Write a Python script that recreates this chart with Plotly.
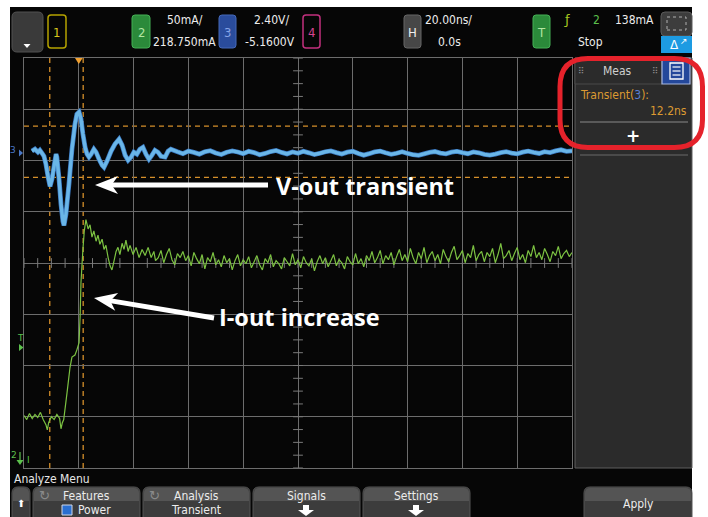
import numpy as np
import plotly.graph_objects as go

W, H = 708, 517

# ---------------- scope settings ----------------
TIME_RANGE_NS = [-20.0, 180.0]      # 20 ns/div, trigger 1 div from left
TIME_PER_DIV_NS = 20.0
CH2_MA_PER_DIV = 50.0
CH2_OFFSET_MA = 218.75
CH3_V_PER_DIV = 2.40
CH3_OFFSET_V = -5.16
TRIG_LEVEL_MA = 138.0
TRANSIENT_NS = 12.2
CURSOR_START_NS = -10.6
THRESH_HI_V = 1.25
THRESH_LO_V = -1.15

# ---------------- channel 3 (V-out, blue) ----------------
BLUE_T = [-17.1, -16.0, -14.9, -14.2, -13.4, -12.7, -12.0, -11.2, -10.5, -9.8, -9.1, -8.3, -8.0,
          -7.2, -6.5, -5.8, -5.4, -4.7, -3.6, -2.5, -1.4, -0.7, 0.1, 0.8, 1.5, 2.3, 3.0, 3.7, 4.5,
          5.5, 6.3, 7.4, 8.5, 9.2, 10.3, 11.8, 13.2, 14.7, 15.8, 16.9, 18.0, 19.1, 20.1, 21.2,
          22.3, 23.4, 24.5, 25.6, 26.7, 27.8, 28.9, 30.0, 31.5, 32.6, 33.6]
BLUE_V = [0.08, 0.17, 0.03, 0.12, -0.02, -0.16, -0.53, -1.14, -1.57, -1.24, -0.68, -0.06, -0.20,
          -1.24, -2.41, -3.21, -3.40, -2.88, -1.47, 0.17, 1.34, 1.81, 1.91, 1.58, 0.88, 0.26, -0.06,
          -0.20, -0.06, 0.17, 0.03, -0.30, -0.58, -0.68, -0.39, 0.08, 0.41, 0.64, 0.36, -0.11,
          -0.35, -0.20, 0.03, -0.06, 0.17, 0.26, -0.06, -0.30, -0.11, 0.12, 0.03, -0.16, -0.20,
          0.08, 0.17]
BLUE_TAIL_T0, BLUE_TAIL_DT = 36.0, 2.0
BLUE_TAIL_V = [0.05, -0.04, 0.08, 0.02, -0.06, 0.05, 0.10, -0.01, -0.08, 0.03,
               0.09, 0.04, -0.04, 0.07, 0.01, -0.09, -0.03, 0.06, 0.11, 0.02,
               -0.05, 0.04, -0.02, 0.07, 0.00, -0.08, -0.02, 0.05, 0.09, 0.01,
               -0.06, 0.03, 0.07, -0.03, -0.11, -0.04, 0.04, 0.08, 0.00, -0.07,
               -0.02, 0.05, -0.03, -0.09, -0.12, -0.05, 0.02, 0.06, -0.01, -0.05,
               0.03, 0.07, 0.01, -0.04, 0.04, 0.00, -0.07, -0.11, -0.06, 0.01,
               0.05, -0.01, -0.05, 0.03, 0.08, 0.02, -0.03, 0.05, 0.01, 0.09,
               0.14, 0.07, 0.09]

# ---------------- channel 2 (I-out, green) ----------------
GREEN_T = [-20, -19, -18, -17, -16, -15, -14, -13, -12, -11.5, -11, -10, -9, -8, -7, -6.5, -6,
           -5.5, -4.3, -3.2, -2.5, -1.4, -0.7, 0.1, 0.5, 0.8, 1.5, 2.0, 2.6, 3.4, 4.1, 4.8, 5.5,
           6.3, 7.0, 7.7, 8.5, 9.2, 9.9, 10.7, 11.4, 12.1, 12.8, 13.6, 14.3, 15.0, 15.8, 16.5,
           17.2, 18.0, 18.7, 19.8, 20.9, 22.0, 23.1, 24.2, 25.3, 26.4, 27.4, 28.0]
GREEN_MA = [70, 66, 72, 67, 71, 68, 73, 66, 61, 56, 63, 69, 66, 71, 67, 57, 63,
            66, 92, 117, 127, 129, 134, 141, 168, 200, 232, 250, 261, 252, 256, 244, 250,
            240, 246, 237, 242, 232, 236, 224, 216, 212, 220, 230, 234, 227, 238, 232,
            241, 230, 236, 227, 234, 224, 232, 226, 234, 224, 230, 221]
GREEN_TAIL_T0, GREEN_TAIL_DT = 29.0, 1.0
GREEN_TAIL_MA = [224, 231, 219, 227, 233, 222, 217, 228, 224, 230,
                 221, 226, 216, 229, 223, 218, 227, 213, 224, 220,
                 229, 217, 222, 215, 226, 219, 223, 212, 221, 227,
                 216, 222, 218, 225, 214, 220, 226, 217, 212, 223,
                 219, 227, 215, 221, 218, 213, 224, 220, 216, 228,
                 217, 222, 214, 225, 219, 216, 223, 211, 220, 226,
                 218, 224, 215, 221, 227, 216, 222, 219, 213, 225,
                 220, 217, 228, 218, 223, 215, 226, 221, 230, 219,
                 224, 231, 218, 226, 222, 229, 217, 225, 232, 221,
                 227, 220, 233, 224, 218, 229, 223, 234, 219, 226,
                 230, 221, 227, 218, 232, 225, 220, 229, 235, 222,
                 226, 231, 219, 228, 224, 236, 221, 227, 230, 220,
                 229, 225, 233, 219, 227, 238, 223, 226, 231, 221,
                 228, 234, 222, 227, 219, 231, 225, 236, 224, 229,
                 222, 233, 227, 220, 230, 226, 235, 223, 228, 231,
                 225, 229]

# ---------------- colours / fonts ----------------
ORANGE = "#d58f2a"
GRID = "#6c6c6c"
UI = "Liberation Sans Narrow, DejaVu Sans Condensed, Arial Narrow, sans-serif"
BIG = "Open Sans, Noto Sans, sans-serif"


def X(p):
    return p / W


def Y(p):
    return 1 - p / H


shapes = []
annots = []


def rect(x0, y0, x1, y1, fill, line=None, lw=1, layer="below", dash=None):
    shapes.append(dict(type="rect", xref="paper", yref="paper", x0=X(x0), x1=X(x1), y0=Y(y1), y1=Y(y0),
                       fillcolor=fill, layer=layer,
                       line=dict(color=line if line else "rgba(0,0,0,0)", width=lw if line else 0,
                                 dash=dash)))


def rrect(x0, y0, x1, y1, r, fill, line=None, lw=1, layer="below", top_only=False):
    rb = 0 if top_only else r
    p = (f"M {X(x0 + r)},{Y(y0)} L {X(x1 - r)},{Y(y0)} Q {X(x1)},{Y(y0)} {X(x1)},{Y(y0 + r)} "
         f"L {X(x1)},{Y(y1 - rb)} Q {X(x1)},{Y(y1)} {X(x1 - rb)},{Y(y1)} "
         f"L {X(x0 + rb)},{Y(y1)} Q {X(x0)},{Y(y1)} {X(x0)},{Y(y1 - rb)} "
         f"L {X(x0)},{Y(y0 + r)} Q {X(x0)},{Y(y0)} {X(x0 + r)},{Y(y0)} Z")
    shapes.append(dict(type="path", xref="paper", yref="paper", path=p, fillcolor=fill, layer=layer,
                       line=dict(color=line if line else "rgba(0,0,0,0)", width=lw if line else 0)))


def poly(pts, fill, layer="above"):
    p = "M " + " L ".join(f"{X(a)},{Y(b)}" for a, b in pts) + " Z"
    shapes.append(dict(type="path", xref="paper", yref="paper", path=p, fillcolor=fill, layer=layer,
                       line=dict(width=0)))


def seg(x0, y0, x1, y1, color, lw=1, layer="above", dash=None):
    shapes.append(dict(type="line", xref="paper", yref="paper", x0=X(x0), x1=X(x1), y0=Y(y0), y1=Y(y1),
                       layer=layer, line=dict(color=color, width=lw, dash=dash)))


def txt(x, y, s, color="#ececec", size=12, anchor="center", family=UI, weight="normal"):
    annots.append(dict(x=X(x), y=Y(y), xref="paper", yref="paper",
                       text=s, showarrow=False, xanchor=anchor, yanchor="middle",
                       font=dict(color=color, size=size, family=family, weight=weight)))


def arrow(tail, tip, lw=5, head_len=23, head_half=9):
    tx, ty = tail
    hx, hy = tip
    L = np.hypot(hx - tx, hy - ty)
    ux, uy = (hx - tx) / L, (hy - ty) / L
    nx, ny = -uy, ux
    bx, by = hx - ux * head_len, hy - uy * head_len
    nxp, nyp = hx - ux * head_len * 0.72, hy - uy * head_len * 0.72
    seg(tx, ty, nxp + ux * 2, nyp + uy * 2, "white", lw)
    poly([(hx, hy), (bx + nx * head_half, by + ny * head_half), (nxp, nyp),
          (bx - nx * head_half, by - ny * head_half)], "white")


# ---------------- screen background ----------------
rect(10, 7, 692, 517, "#060606")

# top bar
rrect(12, 12, 43, 52, 5, "#3a3a3a", "#505050")
poly([(23.5, 44), (30.5, 44), (27, 48)], "white")
rrect(48, 15, 66, 48, 3, "rgba(0,0,0,0)", "#b5a300", 1.5)
txt(57, 32, "1", "#d8c61c", 13)
rrect(132, 15, 150, 48, 3, "#2b8a3a", "#45b055")
txt(141, 32, "2", "#b3e6a3", 13)
txt(185, 20, "50mA/")
txt(184, 42, "218.750mA")
rrect(219, 15, 236, 48, 3, "#2a4c9c", "#4468b8")
txt(227.5, 32, "3", "#86a4e6", 13)
txt(271, 20, "2.40V/")
txt(270, 42, "-5.1600V")
rrect(303, 15, 320, 48, 3, "rgba(0,0,0,0)", "#c2307e", 1.5)
txt(311.5, 32, "4", "#d6448f", 13)
rrect(404, 15, 421, 48, 3, "#474747", "#666666")
txt(412.5, 32, "H", "#f0f0f0", 13)
txt(448, 20, "20.00ns/")
txt(449, 42, "0.0s")
rrect(533, 15, 550, 48, 3, "#2b8a3a", "#45b055")
txt(541.5, 32, "T", "#b3e6a3", 13)
txt(567, 20, "ƒ", "#a8c820", 13, family="DejaVu Sans")
txt(596, 20, "2", "#5cc04c")
txt(634, 20, "138mA")
txt(590, 42, "Stop")
rrect(661, 12, 692, 36, 4, "#3d3d3d", "#5a5a5a")
rect(667, 17, 686, 30, "rgba(0,0,0,0)", "#b0b0b0", 1, dash="dot")
rect(661, 36, 692, 53, "#1d9be2")
txt(674, 45, "Δ", "white", 12, family="DejaVu Sans")
txt(684, 41, "↗", "white", 9, family="DejaVu Sans")

# side measurement panel
rect(575, 58, 692, 468, "#2b2b2b", "#5e5e5e", 1)
rect(575, 58, 662, 84, "#2b2b2b", "#4a4a4a", 1)
rect(662, 58, 690, 84, "#24489b", "#a8b8e0", 1.2)
rect(670, 63, 683, 79, "rgba(0,0,0,0)", "white", 1.3)
for yy in (67, 71, 75):
    seg(672.5, yy, 680.5, yy, "white", 1.2, layer="below")
txt(617, 71, "Meas", "#cfcfcf", 12)
txt(581, 71, "⠿", "#8a8a8a", 9, family="DejaVu Sans")
txt(655, 71, "⠿", "#8a8a8a", 9, family="DejaVu Sans")
txt(578, 95, 'Transient(<span style="color:#5a7fd6">3</span>):', "#dc9a32", 12, anchor="left")
txt(689, 111, "12.2ns", "#dc9a32", 12, anchor="right")
seg(580, 122, 688, 122, "#5a5a5a", 2, layer="below")
txt(633, 136, "+", "white", 17, family="DejaVu Sans", weight="bold")
seg(580, 155, 688, 155, "#4a4a4a", 2, layer="below")

# left gutter markers
txt(13, 150, "3", "#4a78c8", 9, family="DejaVu Sans")
poly([(19, 149.5), (19, 156.5), (23, 153)], "#4a78c8", layer="below")
txt(20, 338, "T", "#5cc04c", 9, family="DejaVu Sans")
poly([(19, 344), (19, 351), (23.5, 347.5)], "#5cc04c", layer="below")
txt(14, 455, "2", "#5cc04c", 9, family="DejaVu Sans")
seg(20, 452, 20, 462, "#5cc04c", 1.2, layer="below")
poly([(16.5, 460), (23.5, 460), (20, 465)], "#5cc04c", layer="below")
txt(29, 460, "I", "#5cc04c", 9, family="DejaVu Sans")

# bottom menu
txt(12, 479, "Analyze Menu", "#e6e6e6", 12, anchor="left")
buttons = [(12, 30), (33, 140), (143, 250), (253, 360), (363, 470), (584, 692)]
for bx0, bx1 in buttons:
    rrect(bx0, 487, bx1, 520, 6, "#3c3c3c", "#555555", 1, top_only=True)
    rrect(bx0 + 1, 488, bx1 - 1, 501, 5, "#545454", None, top_only=True)
txt(21, 503, "⬆", "white", 10, family="DejaVu Sans")
txt(44, 495, "↻", "#8a8a8a", 13, family="DejaVu Sans")
txt(86, 496, "Features")
rect(62, 505, 72, 515, "#2a6fd0", "#cfd8e8", 1, layer="above")
txt(76, 510, "Power", anchor="left")
txt(154, 495, "↻", "#8a8a8a", 13, family="DejaVu Sans")
txt(196, 496, "Analysis")
txt(196, 510, "Transient")
txt(306, 496, "Signals")
txt(416, 496, "Settings")
for cx in (306, 416):
    rect(cx - 3, 505, cx + 3, 510, "white", layer="above")
    poly([(cx - 8, 510), (cx + 8, 510), (cx, 516)], "white")
txt(638, 504, "Apply")

# ---------------- measurement cursors / trigger marker ----------------
for tx in (CURSOR_START_NS, CURSOR_START_NS + TRANSIENT_NS):
    shapes.append(dict(type="line", xref="x", yref="paper", x0=tx, x1=tx, y0=Y(468), y1=Y(58),
                       layer="below", line=dict(color=ORANGE, width=1.3, dash="5px,4px")))
for vy in (THRESH_HI_V, THRESH_LO_V):
    shapes.append(dict(type="line", xref="paper", yref="y2", x0=X(24), x1=X(572), y0=vy, y1=vy,
                       layer="below", line=dict(color=ORANGE, width=1.3, dash="5px,4px")))
shapes.append(dict(type="path", xref="x", yref="paper",
                   path=f"M -1.4,{Y(58)} L 1.4,{Y(58)} L 0,{Y(64)} Z",
                   fillcolor="#f0a030", line=dict(width=0), layer="above"))

# ---------------- annotation arrows and texts ----------------
arrow((268, 185), (95, 185))
arrow((214, 318), (94, 298))
txt(274, 186, "V-out transient", "white", 23.5, anchor="left", family=BIG, weight="bold")
txt(217, 317, "I-out increase", "white", 23.5, anchor="left", family=BIG, weight="bold")

# red highlight around the measurement
cx0, cy0, cx1, cy1, r = 560, 58.5, 702.5, 147.5, 28
p = (f"M {X(cx0 + r)},{Y(cy0)} L {X(cx1 - r)},{Y(cy0)} Q {X(cx1)},{Y(cy0)} {X(cx1)},{Y(cy0 + r)} "
     f"L {X(cx1)},{Y(cy1 - r)} Q {X(cx1)},{Y(cy1)} {X(cx1 - r)},{Y(cy1)} "
     f"L {X(cx0 + r)},{Y(cy1)} Q {X(cx0)},{Y(cy1)} {X(cx0)},{Y(cy1 - r)} "
     f"L {X(cx0)},{Y(cy0 + r)} Q {X(cx0)},{Y(cy0)} {X(cx0 + r)},{Y(cy0)} Z")
shapes.append(dict(type="path", xref="paper", yref="paper", path=p, layer="above",
                   line=dict(color="#e5222b", width=5), fillcolor="rgba(0,0,0,0)"))

# ---------------- traces ----------------
fig = go.Figure()

ch2_lo = CH2_OFFSET_MA - 4 * CH2_MA_PER_DIV
ch2_hi = CH2_OFFSET_MA + 4 * CH2_MA_PER_DIV
t_center = (TIME_RANGE_NS[0] + TIME_RANGE_NS[1]) / 2

# minor ticks on the centre lines
hx = np.arange(TIME_RANGE_NS[0], TIME_RANGE_NS[1] + 0.01, TIME_PER_DIV_NS / 4)
fig.add_trace(go.Scatter(x=hx, y=[CH2_OFFSET_MA] * len(hx), mode="markers", hoverinfo="skip",
                         marker=dict(symbol="line-ns", size=7, line=dict(color="#7a7a7a", width=1))))
vy_ = np.arange(ch2_lo, ch2_hi + 0.01, CH2_MA_PER_DIV / 4)
fig.add_trace(go.Scatter(x=[t_center] * len(vy_), y=vy_, mode="markers", hoverinfo="skip",
                         marker=dict(symbol="line-ew", size=7, line=dict(color="#7a7a7a", width=1))))

green_t = GREEN_T + [GREEN_TAIL_T0 + i * GREEN_TAIL_DT for i in range(len(GREEN_TAIL_MA))]
green_y = GREEN_MA + GREEN_TAIL_MA
fig.add_trace(go.Scatter(x=green_t, y=green_y, mode="lines", hoverinfo="skip",
                         line=dict(color="#7cc242", width=1.2, simplify=False)))

blue_t = BLUE_T + [BLUE_TAIL_T0 + i * BLUE_TAIL_DT for i in range(len(BLUE_TAIL_V))]
blue_y = BLUE_V + BLUE_TAIL_V
fig.add_trace(go.Scatter(x=blue_t, y=blue_y, yaxis="y2", mode="lines", hoverinfo="skip",
                         line=dict(color="#3a78c0", width=4.8, simplify=False)))
fig.add_trace(go.Scatter(x=blue_t, y=blue_y, yaxis="y2", mode="lines", hoverinfo="skip",
                         line=dict(color="#6ab6e8", width=3.4, simplify=False)))

fig.update_layout(
    width=W, height=H, margin=dict(l=0, r=0, t=0, b=0),
    paper_bgcolor="white", plot_bgcolor="rgba(0,0,0,0)", showlegend=False,
    xaxis=dict(domain=[X(24), X(572)], range=TIME_RANGE_NS, tick0=0, dtick=TIME_PER_DIV_NS,
               showgrid=True, gridcolor=GRID, gridwidth=1, zeroline=False, showticklabels=False,
               ticks="", showline=True, linecolor=GRID, linewidth=1, mirror=True, fixedrange=True),
    yaxis=dict(domain=[Y(468), Y(58)], range=[ch2_lo, ch2_hi], tick0=ch2_lo, dtick=CH2_MA_PER_DIV,
               showgrid=True, gridcolor=GRID, gridwidth=1, zeroline=False, showticklabels=False,
               ticks="", showline=True, linecolor=GRID, linewidth=1, mirror=True, fixedrange=True),
    yaxis2=dict(overlaying="y", range=[CH3_OFFSET_V - 4 * CH3_V_PER_DIV, CH3_OFFSET_V + 4 * CH3_V_PER_DIV],
                showgrid=False, zeroline=False, showticklabels=False, ticks="", showline=False,
                fixedrange=True),
    shapes=shapes, annotations=annots,
)

fig.write_html("out.html", config={"displayModeBar": False},
               post_script="document.body.style.margin='0';document.body.style.padding='0';"
                           "document.body.style.overflow='hidden';")
